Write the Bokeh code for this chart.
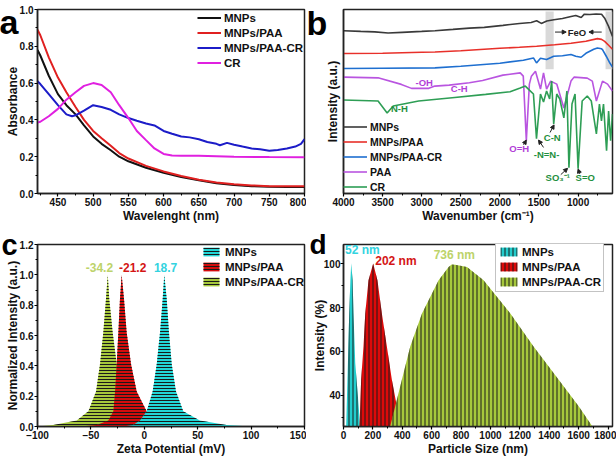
from bokeh.plotting import figure
from bokeh.layouts import gridplot
from bokeh.models import (Range1d, SingleIntervalTicker, FixedTicker, Legend, LegendItem,
                          Title, Arrow, NormalHead, PrintfTickFormatter)
from bokeh.embed import file_html
from bokeh.resources import INLINE
from bokeh.core.properties import value

FONT = "Liberation Sans"

# ---------------- panel a: UV-Vis ----------------
wl = [421, 425, 437, 450, 462, 475, 487, 500, 512, 525, 537, 550, 575, 600, 625, 650, 675, 700, 725, 750, 775, 800]
abs_mnps = [0.78, 0.75, 0.64, 0.54, 0.48, 0.43, 0.37, 0.31, 0.27, 0.235, 0.20, 0.175, 0.14, 0.113, 0.09, 0.072, 0.056, 0.046, 0.040, 0.037, 0.036, 0.036]
abs_paa = [0.89, 0.86, 0.74, 0.63, 0.55, 0.47, 0.40, 0.34, 0.30, 0.26, 0.22, 0.19, 0.15, 0.12, 0.095, 0.075, 0.06, 0.05, 0.044, 0.04, 0.04, 0.04]
wl_cr_mnp = [421, 425, 437, 450, 462, 470, 475, 487, 500, 512, 525, 537, 550, 562, 575, 587, 600, 612, 625, 637, 650, 662, 675, 680, 690, 700, 712, 725, 737, 750, 762, 775, 787, 795, 800]
abs_paa_cr = [0.61, 0.595, 0.54, 0.48, 0.43, 0.42, 0.425, 0.45, 0.48, 0.47, 0.455, 0.43, 0.41, 0.395, 0.38, 0.37, 0.34, 0.325, 0.31, 0.305, 0.295, 0.28, 0.27, 0.262, 0.275, 0.265, 0.255, 0.245, 0.24, 0.232, 0.236, 0.245, 0.255, 0.27, 0.295]
wl_cr = [421, 425, 437, 450, 462, 475, 487, 500, 512, 525, 537, 550, 562, 575, 587, 600, 612, 625, 650, 700, 750, 800]
abs_cr = [0.385, 0.39, 0.42, 0.46, 0.51, 0.55, 0.585, 0.60, 0.59, 0.55, 0.48, 0.41, 0.34, 0.29, 0.245, 0.215, 0.207, 0.205, 0.205, 0.20, 0.198, 0.197]
abs_ticks = [0.0, 0.2, 0.4, 0.6, 0.8, 1.0]

# ---------------- panel b: FTIR ----------------
wn_k = [4000, 3780, 3600, 3430, 3250, 3000, 2830, 2600, 2390, 2200, 1960, 1750, 1600, 1530, 1470, 1400, 1310, 1200, 1090, 1030, 960, 920, 850, 770, 700, 660, 610, 560]
ir_mnps = [163.7, 163, 162.5, 161.3, 162, 163, 163.7, 165, 166.3, 167, 169, 171, 172, 173.7, 171, 173.5, 174.7, 176, 178, 179, 177, 180.3, 180, 180.5, 180.3, 176.3, 168, 158]
wn_r = [4000, 3500, 3000, 2830, 2500, 2000, 1750, 1530, 1300, 1090, 900, 753, 700, 660, 610, 560]
ir_paa = [140.7, 141, 142, 142.3, 143.5, 146, 147, 148, 149.5, 151, 153, 155.7, 155, 153, 149, 145]
wn_b = [4000, 3500, 2830, 2500, 2000, 1700, 1571, 1532, 1481, 1403, 1312, 1200, 1091, 1030, 961, 900, 800, 753, 700, 688, 640, 600, 560]
ir_paa_cr = [125.7, 126, 126.3, 128, 131, 134, 136.3, 131.3, 136, 134.7, 138, 138.5, 139.7, 138, 137, 141, 145, 146.3, 145.5, 144.7, 138, 132, 127]
wn_p = [4000, 3558, 3260, 3130, 2909, 2831, 2649, 2390, 2221, 1961, 1740, 1701, 1662, 1623, 1597, 1545, 1481, 1442, 1403, 1351, 1273, 1182, 1091, 1052, 883, 818, 766, 688, 623, 560]
ir_pure_paa = [117, 116.3, 109.7, 105.7, 105.7, 108, 109, 111.3, 113.7, 119, 121.3, 118, 53, 110, 118, 123, 105, 121.3, 105, 113, 110, 86, 113, 117, 116, 113, 93, 113, 110, 103]
wn_g = [4000, 3558, 3442, 3364, 3039, 2610, 2182, 1870, 1740, 1675, 1610, 1571, 1532, 1481, 1442, 1403, 1364, 1338, 1312, 1273, 1234, 1182, 1143, 1117, 1078, 1039, 1000, 948, 883, 831, 766, 727, 701, 675, 636, 610, 584, 560]
ir_cr = [94, 93, 81, 88, 93, 96.3, 99.7, 102.3, 106, 108, 103, 100, 55, 100, 92, 103, 95, 113, 70, 100, 95, 76, 103, 26, 90, 100, 25, 93, 98, 93, 60, 90, 73, 90, 43, 83, 53, 80]
band_left = [1416, 649]
band_right = [1312, 558]
band_bottom = [125, 125]
band_top = [183, 183]
ann_purple = ["-OH", "C-H", "O=H"]
ann_purple_x = [2968, 2520, 1753]
ann_purple_y = [112, 105.5, 45]
ann_green = ["N-H", "C-N", "-N=N-", "SO\u2083\u207b\u00b9", "S=O"]
ann_green_x = [3286, 1331, 1403, 1260, 909]
ann_green_y = [85.5, 56, 39, 16, 16]

# ---------------- panel c: zeta potential ----------------
zeta_levels = [0, 0.01, 0.04, 0.10, 0.23, 0.41, 0.62, 0.84, 1.0, 0.84, 0.62, 0.41, 0.23, 0.10, 0.04, 0.01, 0]
zeta_mnps = [-20, -10.6, -4, 2.2, 7.8, 11.6, 14.7, 17.2, 18.7, 21, 23.1, 25.7, 29.7, 36.5, 52, 77, 100]
zeta_paa = [-60, -44.6, -33.7, -29, -27.4, -25.9, -24.3, -22.8, -21.2, -19, -16.5, -12.4, -7.1, 2.2, 14.7, 27, 45]
zeta_paa_cr = [-100, -85.2, -63.3, -52.4, -45.2, -41.5, -38.4, -35.9, -34.2, -32.8, -29.6, -25.8, -21.2, -15, -8.7, -1, 10]
zeta_labels = ["-34.2", "-21.2", "18.7"]
zeta_label_x = [-42, -10.9, 19.9]
zeta_label_y = [1.047, 1.047, 1.047]
norm_ticks = [0.0, 0.2, 0.4, 0.6, 0.8, 1.0, 1.2]

# ---------------- panel d: DLS ----------------
size_mnps = [10, 18.4, 23.6, 30, 38.8, 47, 52.4, 62, 68, 80, 98, 113, 120]
int_mnps = [20, 26.3, 39.5, 54.6, 77.3, 92.4, 100.2, 92.4, 77.3, 54.6, 39.5, 26.3, 20]
size_paa = [100, 109, 114, 120, 136, 148, 170, 202, 231, 261, 295, 329, 363, 400, 420]
int_paa = [20, 26.8, 35, 47.1, 62.2, 77.3, 92.4, 100, 92.4, 77.3, 62.2, 47.1, 35, 26, 20]
size_paa_cr = [300, 318, 352, 397, 454, 534, 647, 715, 736, 760, 840, 953, 1135, 1293, 1464, 1600, 1691, 1720]
int_paa_cr = [20, 26, 35, 47.1, 62.2, 77.3, 92.4, 98.4, 99.6, 99.5, 98.4, 92.4, 77.3, 62.2, 47.1, 35, 26, 20]
dls_labels = ["52 nm", "202 nm", "736 nm"]
dls_label_x = [10, 216, 754]
dls_label_y = [106, 101, 104]

names = ["MNPs", "MNPs/PAA", "MNPs/PAA-CR"]


def make_fig(w, h, xr, yr, left, right, top, bottom):
    p = figure(width=w, height=h, x_range=Range1d(*xr), y_range=Range1d(*yr),
               output_backend="svg", toolbar_location=None,
               min_border_left=left, min_border_right=right,
               min_border_top=top, min_border_bottom=bottom)
    p.xgrid.visible = False
    p.ygrid.visible = False
    p.outline_line_color = "#222222"
    p.outline_line_width = 1.5
    for ax in (p.xaxis[0], p.yaxis[0]):
        ax.axis_line_width = 1.5
        ax.axis_line_color = "#222222"
        ax.major_tick_in = 0
        ax.major_tick_out = 3
        ax.minor_tick_in = 0
        ax.minor_tick_out = 2
        ax.major_tick_line_width = 1.2
        ax.minor_tick_line_width = 1
        ax.major_label_text_font = FONT
        ax.major_label_text_font_size = "10px"
        ax.major_label_text_font_style = "bold"
        ax.major_label_text_color = "#111111"
        ax.axis_label_text_font = FONT
        ax.axis_label_text_font_size = "12px"
        ax.axis_label_text_font_style = "bold"
        ax.axis_label_text_color = "#111111"
        ax.major_label_standoff = 1
        ax.axis_label_standoff = 0
    p.yaxis.axis_label_standoff = -3
    return p


def letter(p, txt, xoff, standoff, size="34px"):
    p.add_layout(Title(text=txt, align="left", offset=xoff, standoff=standoff, vertical_align="bottom",
                       text_font=FONT, text_font_size=size, text_font_style="bold",
                       text_color="#000000"), "above")


def mk_legend(items, loc, size, gw, gh, pad, standoff, margin=0, border=None):
    return Legend(items=items, location=loc, border_line_color=border, border_line_width=1,
                  background_fill_color="white", background_fill_alpha=1 if border else 0,
                  label_text_font=FONT, label_text_font_size=size, label_text_font_style="bold",
                  label_text_color="#111111",
                  glyph_width=gw, glyph_height=gh, label_height=15, spacing=0, padding=pad,
                  label_standoff=standoff, margin=margin)


# ---- a ----
pa = make_fig(306, 230, (421, 800), (0, 1.0), 37, 2, 9, 35)
pa.xaxis.ticker = SingleIntervalTicker(interval=50, num_minor_ticks=2)
pa.yaxis.ticker = FixedTicker(ticks=abs_ticks, minor_ticks=[t + 0.1 for t in abs_ticks[:-1]])
pa.yaxis.formatter = PrintfTickFormatter(format="%.1f")
pa.xaxis.axis_label = "Wavelenght (nm)"
pa.yaxis.axis_label = "Absorbance"
ra1 = pa.line(wl, abs_mnps, line_color="#111111", line_width=2)
ra2 = pa.line(wl, abs_paa, line_color="#e02020", line_width=2)
ra3 = pa.line(wl_cr_mnp, abs_paa_cr, line_color="#1c1cc8", line_width=2)
ra4 = pa.line(wl_cr, abs_cr, line_color="#e020e0", line_width=2)
pa.add_layout(mk_legend([LegendItem(label="MNPs", renderers=[ra1]),
                         LegendItem(label="MNPs/PAA", renderers=[ra2]),
                         LegendItem(label="MNPs/PAA-CR", renderers=[ra3]),
                         LegendItem(label="CR", renderers=[ra4])],
                        "top_right", "11.5px", 24, 15, 2, 3, margin=1))
letter(pa, "a", -38, -62)

# ---- b ----
pb = make_fig(310, 230, (4000, 560), (0, 185), 37, 4, 8, 37)
pb.xaxis.ticker = SingleIntervalTicker(interval=500, num_minor_ticks=2)
pb.yaxis.ticker = FixedTicker(ticks=[], minor_ticks=[])
pb.yaxis.axis_label_standoff = 4
pb.xaxis.axis_label = "Wavenumber (cm\u207b\u00b9)"
pb.yaxis.axis_label = "Intensity (a.u.)"
pb.quad(left=band_left, right=band_right, bottom=band_bottom, top=band_top,
        fill_color="#cfcfcf", fill_alpha=0.8, line_color=None)
rb1 = pb.line(wn_k, ir_mnps, line_color="#3a3a3a", line_width=1.6)
rb2 = pb.line(wn_r, ir_paa, line_color="#e8302a", line_width=1.6)
rb3 = pb.line(wn_b, ir_paa_cr, line_color="#1e6fd0", line_width=1.6)
rb4 = pb.line(wn_p, ir_pure_paa, line_color="#b955e0", line_width=1.6)
rb5 = pb.line(wn_g, ir_cr, line_color="#2e9e55", line_width=1.6)
pb.text(x=ann_purple_x, y=ann_purple_y, text=ann_purple, text_color="#b23fd8",
        text_font=value(FONT), text_font_size="9.5px", text_font_style="bold",
        text_align="center", text_baseline="middle")
pb.text(x=ann_green_x, y=ann_green_y, text=ann_green, text_color="#1f9040",
        text_font=value(FONT), text_font_size="9.5px", text_font_style="bold",
        text_align="center", text_baseline="middle")
pb.text(x=[1015], y=[162.3], text=["FeO"], text_color="#222222",
        text_font=value(FONT), text_font_size="9.5px", text_font_style="bold",
        text_align="center", text_baseline="middle")
arrows = [((1295, 162.3), (1152, 162.3)), ((698, 162.3), (861, 162.3)),
          ((1697, 49), (1662, 53.7)), ((1442, 46.3), (1506, 53.7)),
          ((1359, 61.3), (1307, 69)), ((1221, 19), (1134, 25.3)),
          ((978, 19.7), (1000, 24.7))]
for (xs, ys), (xe, ye) in arrows:
    pb.add_layout(Arrow(x_start=xs, y_start=ys, x_end=xe, y_end=ye, line_color="#222222", line_width=1,
                        end=NormalHead(size=4, fill_color="#222222", line_color="#222222")))
leg_b = Legend(items=[LegendItem(label="MNPs", renderers=[rb1]),
                      LegendItem(label="MNPs/PAA", renderers=[rb2]),
                      LegendItem(label="MNPs/PAA-CR", renderers=[rb3]),
                      LegendItem(label="PAA", renderers=[rb4]),
                      LegendItem(label="CR", renderers=[rb5])],
               location=(0, 0), border_line_color=None, background_fill_alpha=0,
               label_text_font=FONT, label_text_font_size="10.5px", label_text_font_style="bold",
               label_text_color="#111111",
               glyph_width=24, glyph_height=13, label_height=13, spacing=2, padding=0,
               label_standoff=3, margin=0)
pb.add_layout(leg_b)
letter(pb, "b", -37, -64)

# ---- c ----
pc = make_fig(306, 230, (-100, 150), (0, 1.2), 37, 1, 11, 34)
pc.xaxis.ticker = SingleIntervalTicker(interval=50, num_minor_ticks=2)
pc.yaxis.ticker = FixedTicker(ticks=norm_ticks, minor_ticks=[t + 0.1 for t in norm_ticks[:-1]])
pc.yaxis.formatter = PrintfTickFormatter(format="%.1f")
pc.xaxis.axis_label = "Zeta Potential (mV)"
pc.yaxis.axis_label = "Normalized Intensity (a.u.)"
c_cols = ["#22d6d6", "#d40d0d", "#a6c83c"]
hatch_c = dict(hatch_pattern="horizontal_line", hatch_color="#1a1a1a", hatch_scale=3, hatch_weight=1)
rc3 = pc.varea(x=zeta_paa_cr, y1=0, y2=zeta_levels, fill_color=c_cols[2], **hatch_c)
rc2 = pc.varea(x=zeta_paa, y1=0, y2=zeta_levels, fill_color=c_cols[1], **hatch_c)
rc1 = pc.varea(x=zeta_mnps, y1=0, y2=zeta_levels, fill_color=c_cols[0], **hatch_c)
pc.add_layout(mk_legend([LegendItem(label=names[0], renderers=[rc1]),
                         LegendItem(label=names[1], renderers=[rc2]),
                         LegendItem(label=names[2], renderers=[rc3])],
                        "top_right", "11.5px", 20, 11, 2, 4, margin=0))
pc.text(x=zeta_label_x, y=zeta_label_y, text=zeta_labels, text_color=["#bdd36a", "#d41515", "#33d3e0"],
        text_font=value(FONT), text_font_size="12px", text_font_style="bold",
        text_align="center", text_baseline="middle")
letter(pc, "c", -36, -32, "29px")

# ---- d ----
pd_ = make_fig(310, 230, (0, 1830), (25.8, 108.7), 37, 4, 14, 33)
pd_.xaxis.ticker = SingleIntervalTicker(interval=200, num_minor_ticks=2)
pd_.yaxis.ticker = SingleIntervalTicker(interval=20, num_minor_ticks=2)
pd_.yaxis.major_label_standoff = 0
pd_.yaxis.axis_label_standoff = -6
pd_.xaxis.axis_label = "Particle Size (nm)"
pd_.yaxis.axis_label = "Intensity (%)"
d_cols = ["#22cccc", "#dd0a0a", "#a6c83c"]
hatch_d = dict(hatch_pattern="vertical_line", hatch_color="#1a1a1a", hatch_scale=4, hatch_weight=1)
rd1 = pd_.varea(x=size_mnps, y1=0, y2=int_mnps, fill_color=d_cols[0], **hatch_d)
rd2 = pd_.varea(x=size_paa, y1=0, y2=int_paa, fill_color=d_cols[1], **hatch_d)
rd3 = pd_.varea(x=size_paa_cr, y1=0, y2=int_paa_cr, fill_color=d_cols[2], **hatch_d)
pd_.add_layout(mk_legend([LegendItem(label=names[0], renderers=[rd1]),
                          LegendItem(label=names[1], renderers=[rd2]),
                          LegendItem(label=names[2], renderers=[rd3])],
                         (152, 134), "11.5px", 21, 11, 2, 3, margin=0, border="#888888"))
pd_.text(x=dls_label_x[:2], y=dls_label_y[:2], text=dls_labels[:2], text_color=["#33d3e0", "#d41515"],
         text_font=value(FONT), text_font_size="12px", text_font_style="bold",
         text_align="left", text_baseline="middle")
pd_.text(x=dls_label_x[2:], y=dls_label_y[2:], text=dls_labels[2:], text_color=["#bdd36a"],
         text_font=value(FONT), text_font_size="12px", text_font_style="bold",
         text_align="center", text_baseline="middle")
letter(pd_, "d", -34, -30, "28px")

grid = gridplot([[pa, pb], [pc, pd_]], toolbar_location=None)
open("out.html", "w").write(file_html(grid, INLINE))
